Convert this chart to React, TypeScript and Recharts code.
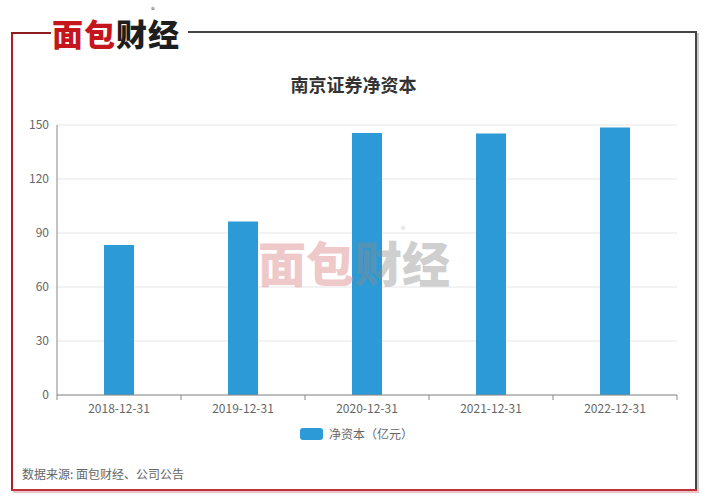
import React from 'react';
import { BarChart, Bar, XAxis, YAxis, CartesianGrid } from 'recharts';

const categories = ['2018-12-31', '2019-12-31', '2020-12-31', '2021-12-31', '2022-12-31'];
const netCapital = [83.4, 96.4, 145.6, 145.3, 148.6];
const yTicks = [0, 30, 60, 90, 120, 150];
const title = '南京证券净资本';
const seriesName = '净资本（亿元）';
const source = '数据来源: 面包财经、公司公告';

const data = categories.map((c, i) => ({ date: c, value: netCapital[i] }));

const FONT = '"Noto Sans CJK SC", "Noto Sans", sans-serif';
const W = 707;
const H = 500;
const PLOT_LEFT = 57;
const PLOT_RIGHT = 677;
const HALF_BAND = (PLOT_RIGHT - PLOT_LEFT) / categories.length / 2;

const XTick = (props: any) => {
  const { x, y, payload, index } = props;
  return (
    <g>
      <line x1={x - HALF_BAND} x2={x - HALF_BAND} y1={y} y2={y + 5} stroke="#888" strokeWidth={1} />
      {index === categories.length - 1 && (
        <line x1={x + HALF_BAND} x2={x + HALF_BAND} y1={y} y2={y + 5} stroke="#888" strokeWidth={1} />
      )}
      <text x={x} y={y + 18} textAnchor="middle" fontSize={12} fill="#666" fontFamily={FONT}>
        {payload.value}
      </text>
    </g>
  );
};

export default function App() {
  return (
    <div style={{ position: 'absolute', left: 0, top: 0, width: W, height: H, background: '#fff', overflow: 'hidden', fontFamily: FONT }}>
      {/* frame */}
      <div style={{ position: 'absolute', left: 11, top: 32, width: 2, height: 459, background: '#b01e23' }} />
      <div style={{ position: 'absolute', left: 11, top: 32, width: 40, height: 2, background: '#8e1d1d' }} />
      <div style={{ position: 'absolute', left: 188, top: 31, width: 509, height: 2, background: '#444' }} />
      <div style={{ position: 'absolute', left: 695, top: 31, width: 2, height: 460, background: '#444' }} />
      <div style={{ position: 'absolute', left: 697, top: 33, width: 2, height: 460, background: '#ccc' }} />
      <div style={{ position: 'absolute', left: 11, top: 489, width: 686, height: 2, background: '#c0303a' }} />
      <div style={{ position: 'absolute', left: 13, top: 491, width: 686, height: 2, background: '#e8c4c4' }} />

      {/* logo */}
      <div style={{ position: 'absolute', left: 52, top: 17, fontSize: 31, fontWeight: 900, letterSpacing: 1, lineHeight: '32px', whiteSpace: 'nowrap' }}>
        <span style={{ color: '#c4161c' }}>面包</span>
        <span style={{ color: '#1e1e1e' }}>财经</span>
        <span style={{ position: 'absolute', left: 99, top: -12, fontSize: 8, lineHeight: '10px', fontWeight: 400, color: '#555' }}>®</span>
      </div>

      {/* title */}
      <div style={{ position: 'absolute', left: 0, width: W, top: 72, textAlign: 'center', fontSize: 18, fontWeight: 700, color: '#333', lineHeight: '24px' }}>
        {title}
      </div>

      <div style={{ position: 'absolute', left: 0, top: 0 }}>
        <BarChart width={W} height={H} data={data} margin={{ top: 125, right: 30, left: 17, bottom: 75 }}>
          <CartesianGrid vertical={false} stroke="#e6e6e6" />
          <XAxis
            dataKey="date"
            height={30}
            tickLine={false}
            tickSize={0}
            tickMargin={0}
            axisLine={{ stroke: '#888' }}
            tick={<XTick />}
            interval={0}
          />
          <YAxis
            width={40}
            domain={[0, 150]}
            ticks={yTicks}
            tickLine={false}
            axisLine={{ stroke: '#888' }}
            tick={{ fontSize: 12, fill: '#666', fontFamily: FONT }}
          />
          <Bar dataKey="value" fill="#2d9ad8" barSize={30} isAnimationActive={false} />
        </BarChart>
      </div>

      {/* watermark */}
      <div style={{ position: 'absolute', left: 258, top: 237, fontSize: 48, fontWeight: 900, lineHeight: '48px', whiteSpace: 'nowrap', opacity: 0.4, pointerEvents: 'none' }}>
        <span style={{ color: '#d9777a' }}>面包</span>
        <span style={{ color: '#8a8a8a' }}>财经</span>
        <span style={{ position: 'absolute', left: 143, top: -12, fontSize: 9, lineHeight: '10px', fontWeight: 400, color: '#888' }}>®</span>
      </div>

      {/* legend */}
      <div style={{ position: 'absolute', left: 300, top: 427, display: 'flex', alignItems: 'center' }}>
        <div style={{ width: 23, height: 12, borderRadius: 3, background: '#2d9ad8' }} />
        <span style={{ marginLeft: 6, fontSize: 12, color: '#666', lineHeight: '14px' }}>{seriesName}</span>
      </div>

      {/* source */}
      <div style={{ position: 'absolute', left: 22, top: 466, fontSize: 12, color: '#666', lineHeight: '16px' }}>{source}</div>
    </div>
  );
}
